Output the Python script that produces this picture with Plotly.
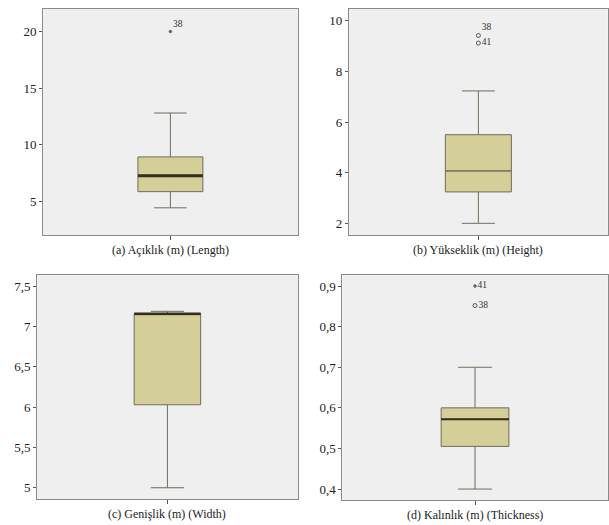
import plotly.graph_objects as go

# Five-number summaries of each measured dimension (m)
panels = ["(a) Açıklık (m) (Length)", "(b) Yükseklik (m) (Height)",
          "(c) Genişlik (m) (Width)", "(d) Kalınlık (m) (Thickness)"]
lower_whisker = [4.42, 2.0, 5.0, 0.40]
q1 = [5.85, 3.24, 6.03, 0.505]
median = [7.25, 4.07, 7.16, 0.572]
q3 = [8.92, 5.50, 7.16, 0.600]
upper_whisker = [12.8, 7.23, 7.19, 0.70]

# Outlying cases: value, case number, kind ("extreme" dot or "outlier" ring)
outlier_vals = [[20.0], [9.42, 9.12], [], [0.90, 0.852]]
outlier_ids = [["38"], ["38", "41"], [], ["41", "38"]]
outlier_kind = [["extreme"], ["outlier", "outlier"], [], ["extreme", "outlier"]]

y_ranges = [[2.0, 22.0], [1.53, 10.47], [4.86, 7.64], [0.373, 0.927]]
y_ticks = [[5, 10, 15, 20], [2, 4, 6, 8, 10], [5, 5.5, 6, 6.5, 7, 7.5],
           [0.4, 0.5, 0.6, 0.7, 0.8, 0.9]]

# Layout / style settings
x_domains = [[0.0706, 0.489], [0.573, 0.998], [0.0608, 0.489], [0.562, 0.998]]
y_domains = [[0.552, 0.983], [0.552, 0.983], [0.0495, 0.476], [0.0476, 0.476]]
label_pos = [["top right"], ["top right", "middle right"], [],
             ["middle right", "middle right"]]
median_width = [3, 1, 2.5, 2]

FONT = "Liberation Serif, Times New Roman, serif"
BOX_FILL = "#d4cf98"
BOX_LINE = "#6e6d5c"

fig = go.Figure()
for i in range(4):
    xa = "x" if i == 0 else f"x{i + 1}"
    ya = "y" if i == 0 else f"y{i + 1}"
    fig.add_trace(go.Box(
        x=[panels[i]], q1=[q1[i]], median=[median[i]], q3=[q3[i]],
        lowerfence=[lower_whisker[i]], upperfence=[upper_whisker[i]],
        fillcolor=BOX_FILL, line=dict(color=BOX_LINE, width=1),
        width=0.255, whiskerwidth=0.5, boxpoints=False,
        xaxis=xa, yaxis=ya, showlegend=False, hoverinfo="skip"))
    # emphasised median line
    fig.add_shape(type="line", xref=xa, yref=ya,
                  x0=-0.1275, x1=0.1275, y0=median[i], y1=median[i],
                  line=dict(color="#2f2f1c" if median_width[i] > 1 else BOX_LINE,
                            width=median_width[i]))
    for v, lab, kind, pos in zip(outlier_vals[i], outlier_ids[i],
                                 outlier_kind[i], label_pos[i]):
        fig.add_trace(go.Scatter(
            x=[panels[i]], y=[v], mode="markers+text", text=[lab],
            textposition=pos,
            textfont=dict(family=FONT, size=9.5, color="#333333"),
            marker=dict(size=2.5 if kind == "extreme" else 4,
                        symbol="circle" if kind == "extreme" else "circle-open",
                        color="#555555", line=dict(width=1, color="#666666")),
            xaxis=xa, yaxis=ya, showlegend=False, hoverinfo="skip"))

    sfx = "" if i == 0 else str(i + 1)
    fig.layout["xaxis" + sfx] = dict(
        domain=x_domains[i], anchor=ya, range=[-0.5, 0.5], type="category",
        showticklabels=False, ticks="outside", ticklen=4, tickcolor="#555555",
        showline=True, linecolor="#8a8a8a", linewidth=1, mirror=True,
        showgrid=False, zeroline=False, fixedrange=True)
    fig.layout["yaxis" + sfx] = dict(
        domain=y_domains[i], anchor=xa, range=y_ranges[i],
        tickvals=y_ticks[i], ticks="outside", ticklen=3, tickcolor="#555555",
        tickfont=dict(family=FONT, size=13, color="#222222"),
        showline=True, linecolor="#8a8a8a", linewidth=1, mirror=True,
        showgrid=False, zeroline=False)
    fig.add_annotation(
        text=panels[i], xref="paper", yref="paper",
        x=sum(x_domains[i]) / 2, y=y_domains[i][0],
        xanchor="center", yanchor="top",
        yshift=-6, showarrow=False,
        font=dict(family=FONT, size=12, color="#222222"))

fig.update_layout(
    width=609, height=525, margin=dict(l=0, r=0, t=0, b=0),
    paper_bgcolor="white", plot_bgcolor="#efefef",
    separators=",.", font=dict(family=FONT))

fig.write_html("out.html")
